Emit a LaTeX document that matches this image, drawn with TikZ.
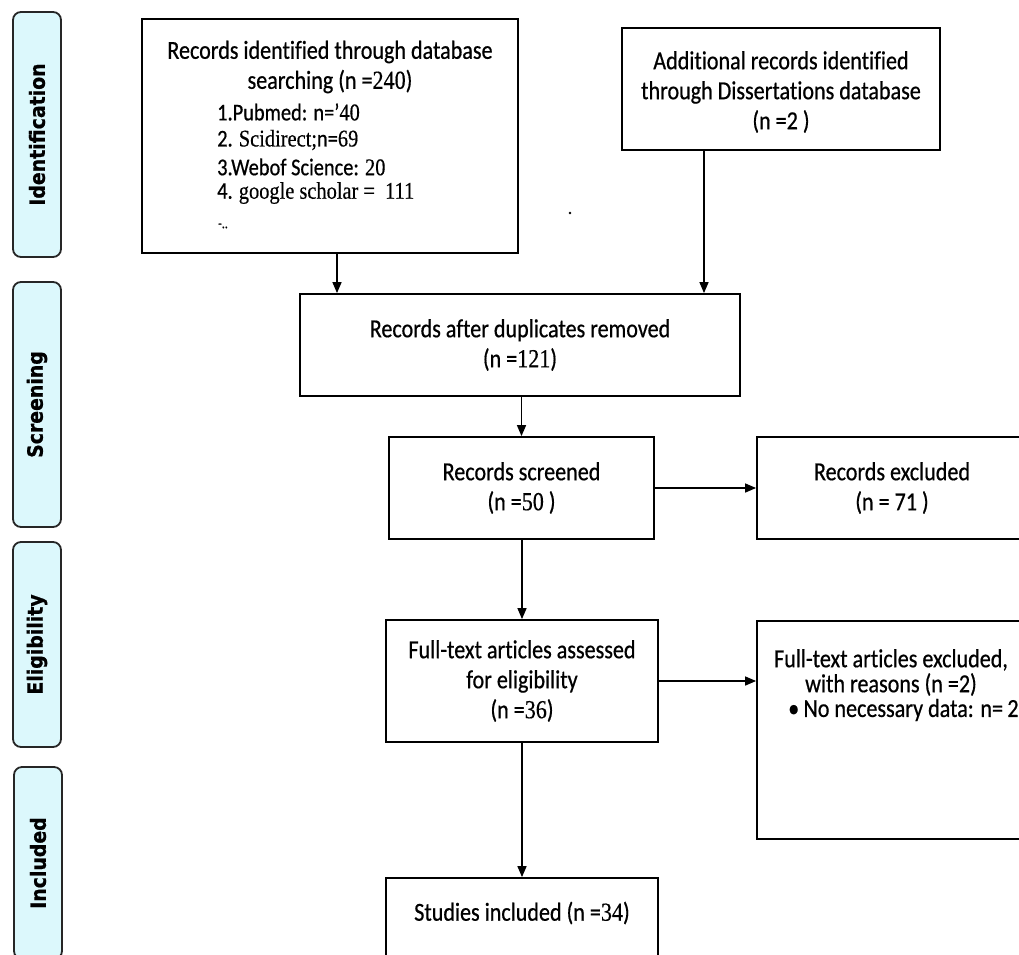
\documentclass[tikz,border=0pt]{standalone}
\usepackage{fontspec}
\setmainfont{Carlito}[FakeStretch=0.85,FakeBold=0.6,Ligatures=NoCommon]
\newfontfamily\tnr{Liberation Serif}[FakeStretch=0.85,FakeBold=0.4]
\newfontfamily\lbl{DejaVu Sans Bold}[FakeStretch=0.9,FakeBold=0.8]
\usetikzlibrary{arrows.meta}
\definecolor{lblfill}{RGB}{220,248,252}
\begin{document}
\begin{tikzpicture}[x=1pt,y=-1pt,
  box/.style={draw=black, line width=1.8pt, fill=white, inner sep=0pt, align=center,
    font=\fontsize{26}{30}\selectfont},
  txt/.style={inner sep=0pt, align=center, font=\fontsize{26}{30}\selectfont},
  item/.style={inner sep=0pt, anchor=west, font=\fontsize{24}{26}\selectfont},
  phase/.style={draw=black!85, line width=1.8pt, fill=lblfill, rounded corners=8pt,
    inner sep=0pt, minimum height=48pt, rotate=90,
    font=\lbl\fontsize{21}{22}\selectfont},
  arr/.style={line width=1.5pt, -{Triangle[length=11pt,width=9pt]}}]
\useasboundingbox (0,0) rectangle (1019,954);
\clip (0,0) rectangle (1019,954);

% phase labels
\node[phase, minimum width=245pt] (pid) at (37,134.5) {Identification};
\node[phase, minimum width=245pt] (psc) at (37,404.5) {Screening};
\node[phase, minimum width=205pt] (pel) at (37,644.5) {Eligibility};
\node[phase, minimum width=192pt] (pin) at (38,863) {Included};

% boxes
\node[box, minimum width=376pt, minimum height=234pt] (b1) at (330,136) {};
\node[txt] (b1t) at (330,67) {Records identified through database\\searching (n ={\tnr 240})};
\node[item] (i1) at (217,112) {1.Pubmed: n=’{\tnr 40}};
\node[item] (i2) at (217,140) {2. {\tnr Scidirect;}n={\tnr 69}};
\node[item] (i3) at (217,167) {3.Webof Science: {\tnr 20}};
\node[item] (i4) at (217,193) {4. {\tnr google scholar =\ \ 111}};
\node[item, font=\fontsize{14}{14}\selectfont] (i5) at (218,226) {-..};

\node[box, minimum width=318pt, minimum height=122pt] (b2) at (781,89) {};
\node[txt] (b2t) at (781,92) {Additional records identified\\through Dissertations database\\(n =2 )};

\node[box, minimum width=440pt, minimum height=102pt] (b3) at (520,345)
  {Records after duplicates removed\\(n ={\tnr 121})};
\node[box, minimum width=265pt, minimum height=102pt] (b4) at (521.5,488)
  {Records screened\\(n ={\tnr 50} )};
\node[box, minimum width=270pt, minimum height=102pt] (b5) at (892,488)
  {Records excluded\\(n = 71 )};
\node[box, minimum width=272pt, minimum height=122pt] (b6) at (522,681)
  {Full-text articles assessed\\for eligibility\\(n ={\tnr 36})};
\node[box, minimum width=270pt, minimum height=218pt] (b7) at (892,730) {};
\node[txt, font=\fontsize{26}{25}\selectfont] (b7t) at (891,672.5) {Full-text articles excluded,\\with reasons (n =2)};
\node[txt, anchor=west] (b7b) at (788,710) {\textbullet\,No necessary data: n=\,2};
\node[box, minimum width=272pt, minimum height=82pt] (b8) at (522,919) {};
\node[txt] (b8t) at (522,913) {Studies included (n ={\tnr 34})};

\fill (570,213) circle (1.3pt);

% connectors
\draw[arr] ([xshift=7pt]b1.south) -- ([xshift=7pt]b1.south |- b3.north);
\draw[arr] ([xshift=-77pt]b2.south) -- ([xshift=-77pt]b2.south |- b3.north);
\draw[arr] (b3.south -| b4) -- (b4.north);
\draw[arr] (b4.east) -- (b5.west);
\draw[arr] (b4.south -| b6) -- (b6.north);
\draw[arr] (b6.east) -- (b6.east -| b7.west);
\draw[arr] (b6.south) -- (b8.north);
\end{tikzpicture}
\end{document}
